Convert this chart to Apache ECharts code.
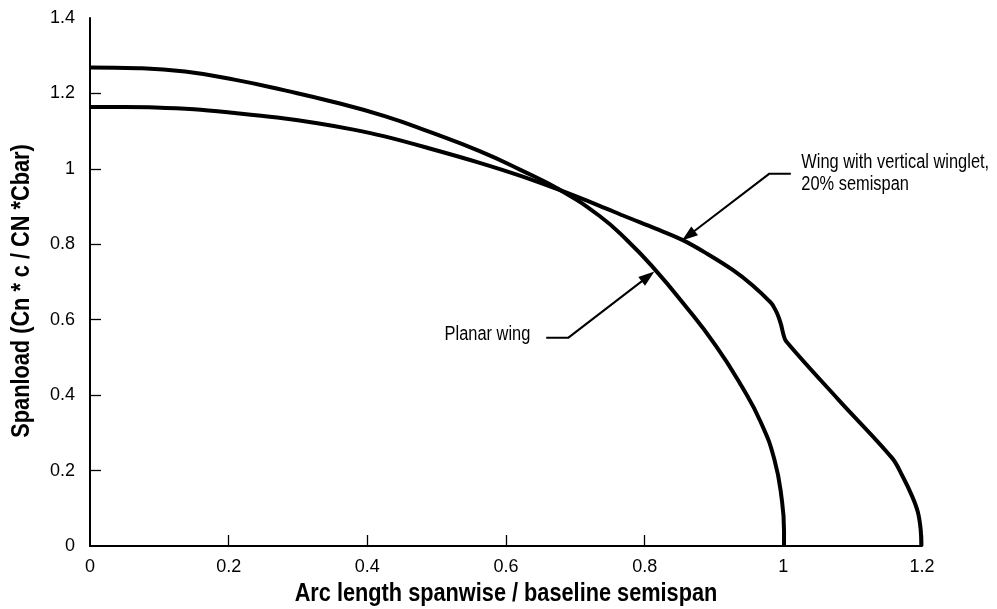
<!DOCTYPE html>
<html>
<head>
<meta charset="utf-8">
<script src="https://cdn.jsdelivr.net/npm/echarts@6/dist/echarts.min.js"></script>
<style>
html,body{margin:0;padding:0;background:#ffffff;}
#chart{width:997px;height:609px;}
</style>
</head>
<body>
<div id="chart"></div>
<script>
// ---- data ----
const xTickValues = [0.2, 0.4, 0.6, 0.8, 1, 1.2];
const yTickValues = [0.2, 0.4, 0.6, 0.8, 1, 1.2];

// Planar wing: starts high (1.27), steeper outboard, ends at 1.0
const planarX = [0, 0.07, 0.137, 0.21, 0.281, 0.35, 0.425, 0.49, 0.562, 0.62, 0.677, 0.735, 0.775, 0.814, 0.855, 0.903, 0.941, 0.967, 0.987, 0.998, 1.001, 1.001];
const planarY = [1.269, 1.267, 1.258, 1.236, 1.208, 1.178, 1.140, 1.098, 1.047, 0.998, 0.945, 0.875, 0.810, 0.735, 0.645, 0.530, 0.420, 0.330, 0.230, 0.120, 0.040, 0];

// Wing with vertical winglet: starts at 1.164, kink at the winglet root, ends at 1.2
const wingletX = [0, 0.05, 0.094, 0.15, 0.209, 0.27, 0.328, 0.38, 0.425, 0.49, 0.562, 0.62, 0.677, 0.735, 0.773, 0.815, 0.855, 0.89, 0.927, 0.955, 0.982, 0.988, 0.993, 0.997, 1.0, 1.004, 1.08, 1.157, 1.172, 1.186, 1.194, 1.198, 1.199];
const wingletY = [1.164, 1.164, 1.163, 1.158, 1.148, 1.136, 1.121, 1.104, 1.086, 1.054, 1.016, 0.982, 0.944, 0.902, 0.873, 0.842, 0.811, 0.775, 0.732, 0.692, 0.645, 0.628, 0.608, 0.585, 0.562, 0.543, 0.387, 0.233, 0.185, 0.131, 0.090, 0.045, 0];

const xAxisTitle = 'Arc length spanwise / baseline semispan';
const yAxisTitle = 'Spanload (Cn * c / CN *Cbar)';

const planarLabel = 'Planar wing';
const wingletLabel = 'Wing with vertical winglet,\n20% semispan';

// annotation anchors in data space
const planarLabelAt = [0.635, 0.561];
const planarLeader = [[0.658, 0.5525], [0.690, 0.5525], [0.814, 0.7276]];
const wingletLabelAt = [1.026, 0.9867];
const wingletLeader = [[1.0108, 0.9867], [0.9795, 0.9867], [0.8538, 0.8098]];

// ---- chart ----
const FONT = '"Liberation Sans", Arial, Helvetica, sans-serif';
const CONDENSE = 0.82;
const zip = (xs, ys) => xs.map((x, i) => [x, ys[i]]);

const chart = echarts.init(document.getElementById('chart'), null, {renderer: 'canvas'});

const axisCommon = {
  type: 'value',
  interval: 0.2,
  min: 0,
  axisLine: {show: true, onZero: false, lineStyle: {color: '#000', width: 2}},
  splitLine: {show: false},
  axisLabel: {color: '#000', fontFamily: FONT, fontSize: 18}
};

chart.setOption({
  animation: false,
  backgroundColor: '#ffffff',
  grid: {left: 90, right: 75, top: 18, bottom: 63, containLabel: false},
  xAxis: Object.assign({}, axisCommon, {
    max: 1.2,
    axisTick: {show: true, inside: true, length: 11, customValues: xTickValues, lineStyle: {color: '#000', width: 1.3}},
    axisLabel: Object.assign({}, axisCommon.axisLabel, {margin: 12})
  }),
  yAxis: Object.assign({}, axisCommon, {
    max: 1.4,
    axisTick: {show: true, inside: true, length: 11, customValues: yTickValues, lineStyle: {color: '#000', width: 1.3}},
    axisLabel: Object.assign({}, axisCommon.axisLabel, {margin: 15})
  }),
  series: [
    {
      name: 'Planar wing',
      type: 'line',
      data: zip(planarX, planarY),
      showSymbol: false,
      smooth: 0.5,
      clip: false,
      lineStyle: {color: '#000', width: 4},
      silent: true
    },
    {
      name: 'Wing with vertical winglet',
      type: 'line',
      data: zip(wingletX, wingletY),
      showSymbol: false,
      smooth: 0.35,
      clip: false,
      lineStyle: {color: '#000', width: 4},
      silent: true
    }
  ]
});

// ---- annotations & titles (positions converted through the chart's own scales) ----
function px(p) { return chart.convertToPixel({gridIndex: 0}, p); }

function leaderGraphics(pts) {
  const P = pts.map(px);
  const n = P.length;
  const tip = P[n - 1], prev = P[n - 2];
  const dx = tip[0] - prev[0], dy = tip[1] - prev[1];
  const len = Math.sqrt(dx * dx + dy * dy);
  const ux = dx / len, uy = dy / len;
  const L = 16, W = 11;
  const bx = tip[0] - ux * L, by = tip[1] - uy * L;
  const nx = -uy, ny = ux;
  const lineEnd = [tip[0] - ux * (L - 2), tip[1] - uy * (L - 2)];
  const linePts = P.slice(0, n - 1).concat([lineEnd]);
  return [
    {type: 'polyline', silent: true, shape: {points: linePts}, style: {stroke: '#000', lineWidth: 2, fill: null}},
    {type: 'polygon', silent: true, shape: {points: [tip, [bx + nx * W / 2, by + ny * W / 2], [bx - nx * W / 2, by - ny * W / 2]]}, style: {fill: '#000', stroke: null}}
  ];
}

function textGraphic(text, x, y, size, weight, align, rotation, lineHeight) {
  return {
    type: 'text', silent: true,
    x: x, y: y,
    rotation: rotation || 0,
    scaleX: CONDENSE, scaleY: 1,
    style: {
      text: text, x: 0, y: 0,
      font: weight + ' ' + size + 'px ' + FONT,
      fontSize: size, fontFamily: FONT, fontWeight: weight,
      lineHeight: lineHeight || size,
      fill: '#000',
      textAlign: align, align: align,
      textVerticalAlign: 'middle', verticalAlign: 'middle'
    }
  };
}

const origin = px([0, 0]);
const xEnd = px([1.2, 0]);
const yTop = px([0, 1.4]);
const pl = px(planarLabelAt);
const wl = px(wingletLabelAt);

chart.setOption({
  graphic: [].concat(
    leaderGraphics(planarLeader),
    leaderGraphics(wingletLeader),
    [
      textGraphic(planarLabel, pl[0], pl[1], 20, 'normal', 'right', 0, 22),
      textGraphic(wingletLabel, wl[0], wl[1], 20, 'normal', 'left', 0, 22),
      textGraphic(xAxisTitle, (origin[0] + xEnd[0]) / 2, origin[1] + 48, 26.5, 'bold', 'center', 0, 28),
      textGraphic(yAxisTitle, origin[0] - 68, (origin[1] + yTop[1]) / 2 + 9, 26.5, 'bold', 'center', Math.PI / 2, 28)
    ]
  )
});
</script>
</body>
</html>
